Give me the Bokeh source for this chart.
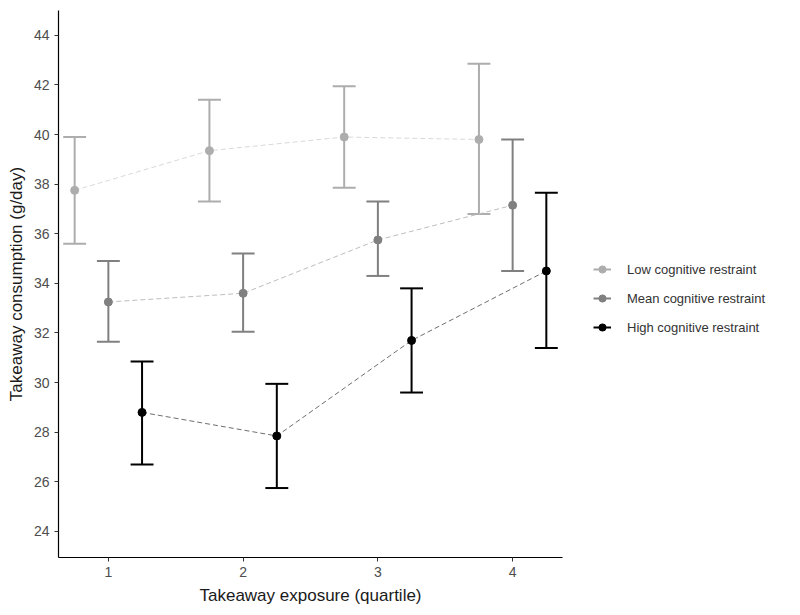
from bokeh.plotting import figure
from bokeh.layouts import row
from bokeh.models import ColumnDataSource, FixedTicker, Range1d, Legend, LegendItem
from bokeh.embed import file_html
from bokeh.resources import INLINE

quartiles = [1, 2, 3, 4]
groups = ["Low cognitive restraint", "Mean cognitive restraint", "High cognitive restraint"]

low_mean = [37.75, 39.35, 39.9, 39.8]
low_lower = [35.6, 37.3, 37.85, 36.8]
low_upper = [39.9, 41.4, 41.95, 42.85]

mean_mean = [33.25, 33.6, 35.75, 37.15]
mean_lower = [31.65, 32.05, 34.3, 34.5]
mean_upper = [34.9, 35.2, 37.3, 39.8]

high_mean = [28.8, 27.85, 31.7, 34.5]
high_lower = [26.7, 25.75, 29.6, 31.4]
high_upper = [30.85, 29.95, 33.8, 37.65]

y_ticks = [24, 26, 28, 30, 32, 34, 36, 38, 40, 42, 44]

FONT = "Liberation Sans"
DODGE = 0.25
CAP = 0.085

p = figure(width=570, height=607, output_backend="svg", toolbar_location=None,
           x_range=Range1d(0.63, 4.37), y_range=Range1d(22.95, 45.0),
           min_border_left=58, min_border_right=8, min_border_top=10, min_border_bottom=50)
p.outline_line_color = None
p.grid.grid_line_color = None
p.background_fill_color = "white"

for ax in (p.xaxis[0], p.yaxis[0]):
    ax.axis_line_color = "black"
    ax.axis_line_width = 1.2
    ax.major_tick_line_color = "#333333"
    ax.major_tick_out = 4
    ax.major_tick_in = 0
    ax.minor_tick_line_color = None
    ax.major_label_text_font = FONT
    ax.major_label_text_font_size = "14px"
    ax.major_label_text_color = "#4d4d4d"
    ax.axis_label_text_font = FONT
    ax.axis_label_text_font_size = "17px"
    ax.axis_label_text_font_style = "normal"
    ax.axis_label_text_color = "#1a1a1a"

p.xaxis.ticker = FixedTicker(ticks=quartiles)
p.yaxis.ticker = FixedTicker(ticks=y_ticks)
p.xaxis.axis_label = "Takeaway exposure (quartile)"
p.yaxis.axis_label = "Takeaway consumption (g/day)"
p.xaxis.axis_label_standoff = 6
p.yaxis.axis_label_standoff = 5

# legend-only figure (no axes), sharing the same data sources
lg = figure(width=214, height=607, output_backend="svg", toolbar_location=None,
            x_axis_type=None, y_axis_type=None,
            x_range=Range1d(100, 101), y_range=Range1d(100, 101),
            min_border_left=0, min_border_right=0, min_border_top=0, min_border_bottom=0)
lg.outline_line_color = None
lg.grid.grid_line_color = None

series = [
    (groups[0], low_mean, low_lower, low_upper, -DODGE, "#ADADAD", "#D9D9D9"),
    (groups[1], mean_mean, mean_lower, mean_upper, 0.0, "#808080", "#BDBDBD"),
    (groups[2], high_mean, high_lower, high_upper, DODGE, "#000000", "#6E6E6E"),
]

items = []
for name, m, lo, hi, off, col, lcol in series:
    xs = [q + off for q in quartiles]
    src = ColumnDataSource(dict(x=xs, y=m, lo=lo, hi=hi,
                                xl=[x - CAP for x in xs], xr=[x + CAP for x in xs]))
    p.line("x", "y", source=src, line_color=lcol, line_width=1, line_dash="5 3")
    p.segment(x0="x", y0="lo", x1="x", y1="hi", source=src, line_color=col, line_width=2)
    p.segment(x0="xl", y0="lo", x1="xr", y1="lo", source=src, line_color=col, line_width=2)
    p.segment(x0="xl", y0="hi", x1="xr", y1="hi", source=src, line_color=col, line_width=2)
    p.scatter("x", "y", source=src, size=8, color=col)
    key_line = lg.segment(x0="x", y0="lo", x1="x", y1="hi", source=src, line_color=col, line_width=2)
    key_pt = lg.scatter("x", "y", source=src, size=8, color=col)
    items.append(LegendItem(label=name, renderers=[key_line, key_pt], index=0))

legend = Legend(items=items, location=(23, 220), border_line_color=None,
                background_fill_alpha=0, label_text_font=FONT, label_text_font_size="13px",
                label_text_color="#333333", glyph_width=18, glyph_height=20, spacing=9,
                label_standoff=16, padding=0, margin=0)
lg.add_layout(legend, "center")

layout = row(p, lg, spacing=0)
open("out.html", "w").write(file_html(layout, INLINE))
